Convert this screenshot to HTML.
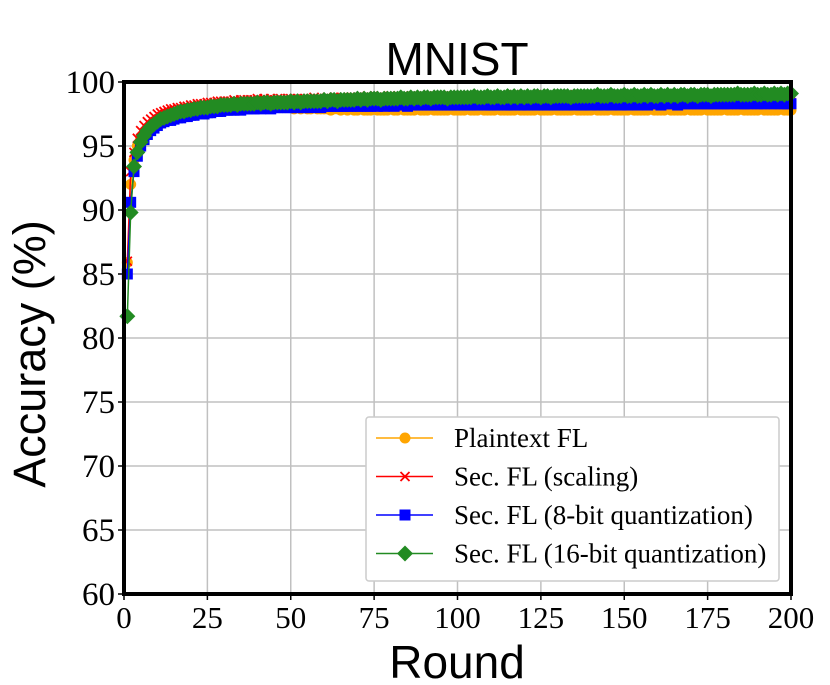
<!DOCTYPE html>
<html><head><meta charset="utf-8"><style>
body{margin:0;background:#fff;}
svg{display:block;}
</style></head><body>
<svg id="chart" width="830" height="685" xmlns="http://www.w3.org/2000/svg">
<text x="457" y="75" font-family="Liberation Sans, sans-serif" font-size="46" text-anchor="middle">MNIST</text>
<text x="457" y="678" font-family="Liberation Sans, sans-serif" font-size="46" text-anchor="middle">Round</text>
<text transform="translate(45,354) rotate(-90)" font-family="Liberation Sans, sans-serif" font-size="45" text-anchor="middle">Accuracy (%)</text>
<g id="grid"></g><g id="ticks"></g><g id="series"></g>
<rect x="124" y="82" width="667" height="512" fill="none" stroke="#000" stroke-width="4"/>
<g id="legend">
<rect x="366" y="417" width="413" height="164" fill="#fff" stroke="#ccc" stroke-width="1.5" rx="3"/>
</g>
</svg>
<script>
const xTicks=[0,25,50,75,100,125,150,175,200];
const yTicks=[60,65,70,75,80,85,90,95,100];
const seriesNames=["Plaintext FL","Sec. FL (scaling)","Sec. FL (8-bit quantization)","Sec. FL (16-bit quantization)"];
const plaintext=[85.9,92.0,93.9,95.0,95.6,96.0,96.3,96.5,96.7,96.9,
97.0,97.1,97.2,97.3,97.3,97.4,97.5,97.5,97.6,97.6,
97.7,97.7,97.7,97.8,97.8,97.9,97.9,97.9,98.0,98.0,
98.0,98.0,98.1,98.0,98.1,98.1,98.0,98.1,98.1,98.0,
98.1,98.0,98.1,98.0,98.0,98.1,98.0,98.0,98.0,98.0,
97.9,98.0,97.9,98.0,97.9,97.9,98.0,97.9,97.9,97.9,
97.9,97.8,97.9,97.9,97.8,97.9,97.8,97.9,97.8,97.8,
97.9,97.8,97.8,97.8,97.9,97.8,97.8,97.8,97.8,97.9,
97.8,97.8,97.9,97.8,97.8,97.8,97.8,97.9,97.8,97.8,
97.8,97.9,97.8,97.8,97.8,97.8,97.8,97.9,97.8,97.8,
97.8,97.8,97.9,97.8,97.8,97.8,97.9,97.8,97.8,97.8,
97.8,97.9,97.8,97.8,97.8,97.8,97.8,97.9,97.8,97.8,
97.8,97.8,97.8,97.9,97.8,97.8,97.8,97.8,97.9,97.8,
97.8,97.8,97.8,97.8,97.9,97.8,97.8,97.8,97.8,97.8,
97.9,97.8,97.8,97.8,97.8,97.9,97.8,97.8,97.8,97.8,
97.8,97.9,97.8,97.8,97.8,97.8,97.8,97.9,97.8,97.8,
97.8,97.8,97.9,97.8,97.8,97.8,97.8,97.8,97.9,97.8,
97.8,97.8,97.8,97.9,97.8,97.8,97.8,97.8,97.8,97.9,
97.8,97.8,97.8,97.8,97.9,97.8,97.8,97.8,97.8,97.8,
97.9,97.8,97.8,97.8,97.8,97.8,97.9,97.8,97.8,97.8];
const scaling=[86.0,93.0,94.5,95.6,96.2,96.6,96.9,97.1,97.3,97.5,
97.6,97.7,97.8,97.9,97.9,98.0,98.0,98.1,98.1,98.2,
98.2,98.3,98.3,98.3,98.4,98.4,98.4,98.5,98.5,98.5,
98.5,98.5,98.6,98.5,98.6,98.6,98.6,98.6,98.6,98.7,
98.6,98.7,98.6,98.7,98.6,98.7,98.7,98.6,98.7,98.7,
98.7,98.7,98.6,98.7,98.7,98.7,98.8,98.7,98.7,98.7,
98.8,98.7,98.8,98.7,98.8,98.8,98.7,98.8,98.8,98.8,
98.8,98.8,98.9,98.8,98.8,98.8,98.9,98.8,98.8,98.9,
98.8,98.9,98.8,98.9,98.8,98.9,98.9,98.8,98.9,98.9,
98.9,98.8,98.9,98.9,98.9,98.9,98.8,98.9,98.9,98.9,
98.9,98.9,98.9,98.9,98.9,98.9,98.9,98.9,98.9,98.9,
98.9,98.9,98.9,98.9,98.9,98.9,99.0,98.9,98.9,98.9,
98.9,99.0,98.9,98.9,98.9,99.0,98.9,98.9,98.9,99.0,
98.9,98.9,99.0,98.9,98.9,99.0,98.9,98.9,99.0,98.9,
99.0,98.9,98.9,99.0,98.9,99.0,98.9,98.9,99.0,99.0,
98.9,99.0,98.9,99.0,98.9,99.0,99.0,98.9,99.0,99.0,
99.0,98.9,99.0,99.0,98.9,99.0,99.0,99.0,98.9,99.0,
99.0,99.0,98.9,99.0,99.0,99.0,99.0,98.9,99.0,99.0,
99.0,99.0,99.0,99.0,98.9,99.0,99.0,99.1,99.0,99.0,
99.0,99.1,99.0,99.0,99.0,99.1,99.0,99.0,99.1,99.0];
const quant8=[85.0,90.6,93.0,94.2,95.0,95.5,95.9,96.2,96.4,96.6,
96.8,96.9,97.0,97.0,97.1,97.2,97.2,97.3,97.3,97.4,
97.4,97.5,97.5,97.5,97.6,97.6,97.7,97.7,97.7,97.8,
97.8,97.8,97.8,97.9,97.8,97.9,97.9,97.9,97.9,98.0,
97.9,98.0,98.0,97.9,98.0,98.0,98.0,98.0,98.0,98.0,
98.0,98.1,98.0,98.0,98.1,98.0,98.1,98.1,98.0,98.1,
98.1,98.1,98.1,98.1,98.1,98.1,98.1,98.1,98.2,98.1,
98.1,98.2,98.1,98.1,98.2,98.1,98.2,98.1,98.2,98.2,
98.1,98.2,98.2,98.2,98.1,98.2,98.2,98.2,98.2,98.2,
98.2,98.2,98.2,98.2,98.2,98.2,98.2,98.2,98.2,98.2,
98.2,98.2,98.2,98.2,98.2,98.2,98.3,98.2,98.2,98.2,
98.2,98.2,98.3,98.2,98.2,98.2,98.2,98.3,98.2,98.2,
98.2,98.3,98.2,98.2,98.3,98.2,98.2,98.3,98.2,98.2,
98.3,98.2,98.2,98.3,98.2,98.3,98.2,98.2,98.3,98.2,
98.3,98.2,98.3,98.2,98.3,98.2,98.3,98.3,98.2,98.3,
98.2,98.3,98.3,98.2,98.3,98.3,98.2,98.3,98.3,98.3,
98.2,98.3,98.3,98.3,98.3,98.2,98.3,98.3,98.3,98.3,
98.3,98.3,98.3,98.3,98.3,98.3,98.3,98.3,98.3,98.3,
98.3,98.3,98.4,98.3,98.3,98.3,98.3,98.3,98.4,98.3,
98.3,98.3,98.4,98.3,98.3,98.4,98.3,98.3,98.3,98.3];
const quant16=[81.7,89.8,93.4,94.5,95.3,95.8,96.2,96.5,96.7,96.9,
97.1,97.2,97.3,97.4,97.5,97.6,97.7,97.7,97.8,97.8,
97.9,97.9,98.0,98.0,98.0,98.1,98.1,98.1,98.2,98.2,
98.2,98.2,98.3,98.2,98.3,98.3,98.3,98.3,98.3,98.4,
98.3,98.4,98.4,98.3,98.4,98.4,98.4,98.4,98.4,98.5,
98.4,98.5,98.4,98.5,98.5,98.5,98.5,98.5,98.5,98.6,
98.5,98.6,98.6,98.5,98.6,98.6,98.6,98.6,98.6,98.7,
98.6,98.7,98.6,98.7,98.7,98.7,98.6,98.7,98.7,98.7,
98.7,98.7,98.8,98.7,98.7,98.8,98.7,98.8,98.7,98.8,
98.8,98.7,98.8,98.8,98.8,98.8,98.7,98.8,98.8,98.8,
98.8,98.8,98.8,98.8,98.9,98.8,98.8,98.8,98.9,98.8,
98.8,98.9,98.8,98.8,98.9,98.8,98.9,98.8,98.9,98.8,
98.9,98.8,98.9,98.9,98.8,98.9,98.9,98.8,98.9,98.9,
98.9,98.9,98.9,98.8,98.9,98.9,98.9,98.9,98.9,98.9,
98.9,99.0,98.9,98.9,98.9,99.0,98.9,98.9,98.9,99.0,
98.9,98.9,99.0,98.9,98.9,99.0,98.9,99.0,98.9,98.9,
99.0,98.9,99.0,98.9,99.0,98.9,99.0,99.0,98.9,99.0,
99.0,98.9,99.0,99.0,99.0,98.9,99.0,99.0,99.0,99.0,
99.0,99.0,99.0,99.1,99.0,99.0,99.0,99.0,99.1,99.0,
99.0,99.1,99.0,99.0,99.1,99.0,99.1,99.0,99.1,99.1];

const NS="http://www.w3.org/2000/svg";
const X0=124,X1=791,Y0=594,Y1=82;
function xs(v){return X0+(v-0)/(200-0)*(X1-X0);}
function ys(v){return Y0-(v-60)/(100-60)*(Y0-Y1);}
function mk(tag,attrs,parent){const e=document.createElementNS(NS,tag);for(const k in attrs)e.setAttribute(k,attrs[k]);parent.appendChild(e);return e;}
const grid=document.getElementById('grid'),ticks=document.getElementById('ticks'),ser=document.getElementById('series'),leg=document.getElementById('legend');
xTicks.forEach(t=>{
  const l=mk('line',{x1:xs(t),x2:xs(t),y1:Y1,y2:Y0,stroke:'#c0c0c0','stroke-width':1.5},grid);
  
  
  mk('line',{x1:xs(t),x2:xs(t),y1:Y0,y2:Y0+6,stroke:'#000','stroke-width':1.5},ticks);
  const tx=mk('text',{x:xs(t),y:Y0+34,'font-family':'Liberation Serif, serif','font-size':31,'text-anchor':'middle'},ticks);
  tx.textContent=t;
  
  
});
yTicks.forEach(t=>{
  const l=mk('line',{x1:X0,x2:X1,y1:ys(t),y2:ys(t),stroke:'#c0c0c0','stroke-width':1.5},grid);
  
  
  mk('line',{x1:X0-6,x2:X0,y1:ys(t),y2:ys(t),stroke:'#000','stroke-width':1.5},ticks);
  const tx=mk('text',{x:X0-9,y:ys(t)+11,'font-family':'Liberation Serif, serif','font-size':33,'text-anchor':'end'},ticks);
  tx.textContent=t;
  
  
});
function marker(type,x,y,color,parent){
  if(type==='o')return mk('circle',{cx:x,cy:y,r:5.5,fill:color},parent);
  if(type==='x')return mk('path',{d:`M${x-4.5},${y-4.5}L${x+4.5},${y+4.5}M${x-4.5},${y+4.5}L${x+4.5},${y-4.5}`,stroke:color,'stroke-width':1.8,fill:'none'},parent);
  if(type==='s')return mk('rect',{x:x-5.5,y:y-5.5,width:11,height:11,fill:color},parent);
  return mk('path',{d:`M${x},${y-8}L${x+8},${y}L${x},${y+8}L${x-8},${y}Z`,fill:color},parent);
}
const defs=[[plaintext,'#ffa500','o'],[scaling,'#ff0000','x'],[quant8,'#0000ff','s'],[quant16,'#228b22','d']];
defs.forEach((d,i)=>{
  const g=mk('g',{},ser);
  
  
  const pts=d[0].map((v,j)=>xs(j+1)+','+ys(v)).join(' ');
  mk('polyline',{points:pts,fill:'none',stroke:d[1],'stroke-width':1.5},g);
  d[0].forEach((v,j)=>marker(d[2],xs(j+1),ys(v),d[1],g));
  const ly=438+i*38.5;
  const le=mk('g',{},leg);
  
  
  mk('line',{x1:376,x2:433,y1:ly,y2:ly,stroke:d[1],'stroke-width':1.5},le);
  marker(d[2],405,ly,d[1],le);
  const t=mk('text',{x:454,y:ly+9,'font-family':'Liberation Serif, serif','font-size':27},le);
  t.textContent=seriesNames[i];
});
</script>
</body></html>
